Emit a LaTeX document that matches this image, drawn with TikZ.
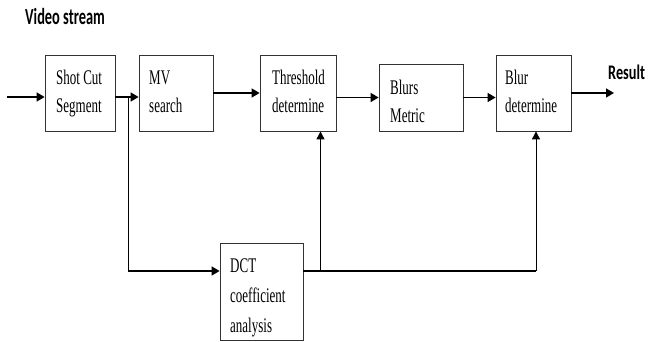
\documentclass[tikz,border=0pt]{standalone}
\usepackage{fontspec}
\usepackage{graphicx}
\setmainfont{Liberation Serif}
\newfontfamily\headfont{Carlito}
\usetikzlibrary{arrows.meta}
\newcommand\btxt[2]{\scalebox{1}[1.6]{\fontsize{13}{#1}\selectfont\begin{tabular}[t]{@{}l@{}}#2\end{tabular}}}
\begin{document}
\begin{tikzpicture}[x=1pt,y=-1pt,
  box/.style={draw=black!80,line width=0.8pt,inner sep=0pt},
  lbl/.style={anchor=base west,inner sep=0pt},
  thick arrow/.style={line width=1.6pt,-{Triangle[length=8pt,width=9pt]}},
  thin arrow/.style={line width=0.9pt,-{Triangle[length=8pt,width=8pt]}},
  thick line/.style={line width=1.6pt},
  thin line/.style={line width=0.9pt}]
\useasboundingbox (0,0) rectangle (649,342);
% boxes
\node[box,minimum width=70pt,minimum height=76pt] (shot) at (80,93) {};
\node[box,minimum width=74pt,minimum height=76pt] (mv) at (176,93) {};
\node[box,minimum width=76pt,minimum height=76pt] (thr) at (298,93) {};
\node[box,minimum width=84pt,minimum height=67pt] (blurs) at (421,97.5) {};
\node[box,minimum width=75pt,minimum height=76pt] (bdet) at (533.5,93) {};
\node[box,minimum width=83pt,minimum height=97pt] (dct) at (261.5,291.5) {};
% texts
\node[lbl] (tshot) at (56,85) {\btxt{17.5}{Shot Cut\\Segment}};
\node[lbl] (tmv) at (149,85) {\btxt{17.5}{MV\\search}};
\node[lbl] (tthr) at (272,85) {\btxt{17.5}{Threshold\\determine}};
\node[lbl] (tblurs) at (390,95) {\btxt{17.5}{Blurs\\Metric}};
\node[lbl] (tbdet) at (505,85) {\btxt{17.5}{Blur\\determine}};
\node[lbl] (tdct) at (230,273) {\btxt{18.5}{DCT\\coefficient\\analysis}};
\node[lbl] (video) at (25,25) {\scalebox{1}[1.6]{\headfont\bfseries\fontsize{14.4}{16}\selectfont Video stream}};
\node[lbl] (result) at (608,80) {\scalebox{1}[1.45]{\headfont\bfseries\fontsize{14.3}{16}\selectfont Result}};
% coordinates
\coordinate (in) at (7,97);
\coordinate (br) at (128,97);
\coordinate (dl) at (128,271);
\coordinate (dr) at (536,271);
\coordinate (tb) at (320.5,271);
\coordinate (res) at (614,93);
% connectors
\draw[thick arrow] (in) -- (in -| shot.west);
\draw[thick arrow] (shot.east |- br) -- (mv.west |- br);
\draw[thick arrow] (mv.east) -- (thr.west);
\draw[thick arrow] (thr.east |- blurs.west) -- (blurs.west);
\draw[thick arrow] (blurs.east) -- (bdet.west |- blurs.east);
\draw[thick arrow] (bdet.east) -- (res);
\draw[thin line] (br) -- (dl);
\draw[thick arrow] (dl) -- (dl -| dct.west);
\draw[thick line] (dct.east |- dl) -- (dr);
\draw[thin arrow] (dr) -- (dr |- bdet.south);
\draw[thin arrow] (tb) -- (tb |- thr.south);
\end{tikzpicture}
\end{document}
